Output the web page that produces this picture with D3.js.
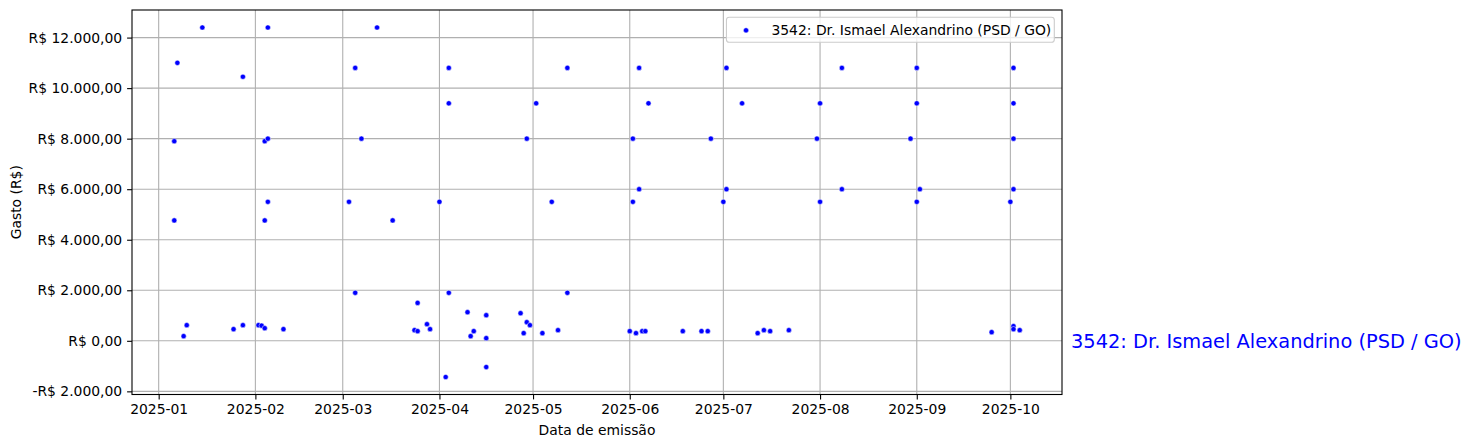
<!DOCTYPE html>
<html>
<head>
<meta charset="utf-8">
<script src="https://cdn.jsdelivr.net/npm/d3@7"></script>
<style>
  html, body { margin: 0; padding: 0; background: #fff; }
  svg { display: block; font-family: "DejaVu Sans", sans-serif; }
</style>
</head>
<body>
<svg id="chart" width="1473" height="448"></svg>
<script>
// ---- data ----
const seriesName = "3542: Dr. Ismael Alexandrino (PSD / GO)";
const emissionDates = [
  "2025-01-06","2025-01-06","2025-01-07","2025-01-09","2025-01-10","2025-01-15",
  "2025-01-25","2025-01-28","2025-01-28","2025-02-02","2025-02-03",
  "2025-02-04","2025-02-04","2025-02-04","2025-02-05","2025-02-05","2025-02-05",
  "2025-02-10",
  "2025-03-03","2025-03-05","2025-03-05","2025-03-07","2025-03-12","2025-03-17",
  "2025-03-24","2025-03-25","2025-03-25","2025-03-28","2025-03-29",
  "2025-04-01","2025-04-03","2025-04-04","2025-04-04","2025-04-04",
  "2025-04-10","2025-04-11","2025-04-12","2025-04-16","2025-04-16","2025-04-16",
  "2025-04-27","2025-04-28","2025-04-29","2025-04-29","2025-04-30",
  "2025-05-02","2025-05-04","2025-05-07","2025-05-09","2025-05-12","2025-05-12",
  "2025-06-01","2025-06-02","2025-06-02","2025-06-03","2025-06-04","2025-06-04",
  "2025-06-05","2025-06-06","2025-06-07","2025-06-18","2025-06-24","2025-06-26",
  "2025-06-27","2025-07-01","2025-07-02","2025-07-02","2025-07-07",
  "2025-07-12","2025-07-14","2025-07-16","2025-07-22",
  "2025-07-31","2025-08-01","2025-08-01","2025-08-08","2025-08-08",
  "2025-08-30","2025-09-01","2025-09-01","2025-09-01","2025-09-02",
  "2025-09-25","2025-10-01","2025-10-02","2025-10-02","2025-10-02","2025-10-02",
  "2025-10-02","2025-10-02","2025-10-04"
];
const amounts = [
  7900, 4765, 11000, 185, 620, 12400,
  462, 620, 10450, 620, 600,
  7900, 4765, 500, 12400, 8000, 5500,
  462,
  5500, 10800, 1900, 8000, 12400, 4765,
  422, 383, 1500, 659, 462,
  5500, -1433, 10800, 9400, 1900,
  1133, 185, 383, 1014, 106, -1038,
  1093, 304, 738, 8000, 620,
  9400, 304, 5500, 422, 10800, 1900,
  383, 8000, 5500, 304, 10800, 6000,
  383, 383, 9400, 383, 383, 383,
  8000, 5500, 10800, 6000, 9400,
  304, 422, 383, 422,
  8000, 9400, 5500, 10800, 6000,
  8000, 10800, 9400, 5500, 6000,
  343, 5500, 10800, 9400, 8000, 6000,
  580, 462, 422
];
const xTickLabels = ["2025-01","2025-02","2025-03","2025-04","2025-05",
                     "2025-06","2025-07","2025-08","2025-09","2025-10"];
const yTickValues = [-2000, 0, 2000, 4000, 6000, 8000, 10000, 12000];
const xAxisTitle = "Data de emissão";
const yAxisTitle = "Gasto (R$)";

// ---- layout ----
const W = 1473, H = 448;
const plot = { left: 132, right: 1062, top: 10, bottom: 394.5 };
const FS = 13.9;
const BLUE = "#0000ff";
const R = 2.6;

const parse = d3.utcParse("%Y-%m-%d");
const points = emissionDates.map((d, i) => ({ date: parse(d), value: amounts[i] }));

// matplotlib-like 5% margins
const xExt = d3.extent(points, d => +d.date);
const xPad = (xExt[1] - xExt[0]) * 0.05;
const x = d3.scaleUtc()
  .domain([new Date(xExt[0] - xPad), new Date(xExt[1] + xPad)])
  .range([plot.left, plot.right]);

const yExt = d3.extent(points, d => d.value);
const yPad = (yExt[1] - yExt[0]) * 0.05;
const y = d3.scaleLinear()
  .domain([yExt[0] - yPad, yExt[1] + yPad])
  .range([plot.bottom, plot.top]);

const brl = v => {
  const s = d3.format(",.2f")(Math.abs(v)).replace(/,/g, "#").replace(/\./g, ",").replace(/#/g, ".");
  return (v < 0 ? "-" : "") + "R$ " + s;
};

const xTickDates = xTickLabels.map(l => d3.utcParse("%Y-%m")(l));

const svg = d3.select("#chart");
svg.append("rect").attr("width", W).attr("height", H).attr("fill", "#fff");

// grid
const grid = svg.append("g").attr("stroke", "#b0b0b0").attr("stroke-width", 1.1);
grid.selectAll("line.v").data(xTickDates).join("line")
  .attr("x1", d => x(d)).attr("x2", d => x(d))
  .attr("y1", plot.top).attr("y2", plot.bottom);
grid.selectAll("line.h").data(yTickValues).join("line")
  .attr("x1", plot.left).attr("x2", plot.right)
  .attr("y1", d => y(d)).attr("y2", d => y(d));

// points
svg.append("g").selectAll("circle").data(points).join("circle")
  .attr("cx", d => x(d.date)).attr("cy", d => y(d.value))
  .attr("r", R)
  .attr("fill", BLUE).attr("stroke", "#fff").attr("stroke-width", 0.5);

// axes
const xAxis = d3.axisBottom(x).tickValues(xTickDates)
  .tickFormat((d, i) => xTickLabels[i]).tickSize(4.9).tickPadding(4.9);
const gx = svg.append("g").attr("transform", `translate(0,${plot.bottom})`).call(xAxis);
const yAxis = d3.axisLeft(y).tickValues(yTickValues).tickFormat(brl).tickSize(4.9).tickPadding(4.9);
const gy = svg.append("g").attr("transform", `translate(${plot.left},0)`).call(yAxis);
[gx, gy].forEach(g => {
  g.select(".domain").remove();
  g.selectAll(".tick line").attr("stroke", "#000").attr("stroke-width", 1.1);
  g.selectAll(".tick text").attr("fill", "#000")
    .style("font-family", "DejaVu Sans").style("font-size", FS + "px");
});

// frame
svg.append("rect")
  .attr("x", plot.left).attr("y", plot.top)
  .attr("width", plot.right - plot.left).attr("height", plot.bottom - plot.top)
  .attr("fill", "none").attr("stroke", "#000").attr("stroke-width", 1.1);

// axis titles
svg.append("text")
  .attr("x", (plot.left + plot.right) / 2).attr("y", 435)
  .attr("text-anchor", "middle").style("font-size", FS + "px").attr("fill", "#000")
  .text(xAxisTitle);
svg.append("text")
  .attr("transform", `translate(21,${(plot.top + plot.bottom) / 2}) rotate(-90)`)
  .attr("text-anchor", "middle").style("font-size", FS + "px").attr("fill", "#000")
  .text(yAxisTitle);

// legend
const leg = svg.append("g");
const legBox = leg.append("rect");
const legText = leg.append("text")
  .attr("y", 35).style("font-size", FS + "px").attr("fill", "#000").text(seriesName);
const tw = legText.node().getComputedTextLength();
const boxRight = plot.right - 7.7;
const boxLeft = boxRight - (tw + 48);
legText.attr("x", boxLeft + 45);
legBox.attr("x", boxLeft).attr("y", 17.3).attr("width", boxRight - boxLeft).attr("height", 25)
  .attr("rx", 2.8).attr("fill", "#fff").attr("fill-opacity", 0.8)
  .attr("stroke", "#cccccc").attr("stroke-width", 1.1);
leg.append("circle").attr("cx", boxLeft + 19.6).attr("cy", 30.3).attr("r", R)
  .attr("fill", BLUE).attr("stroke", "#fff").attr("stroke-width", 0.5);

// side annotation at value 0
svg.append("text")
  .attr("x", 1071).attr("y", y(0)).attr("dy", "0.35em")
  .style("font-size", "19.4px").attr("fill", BLUE)
  .text(seriesName);
</script>
</body>
</html>
